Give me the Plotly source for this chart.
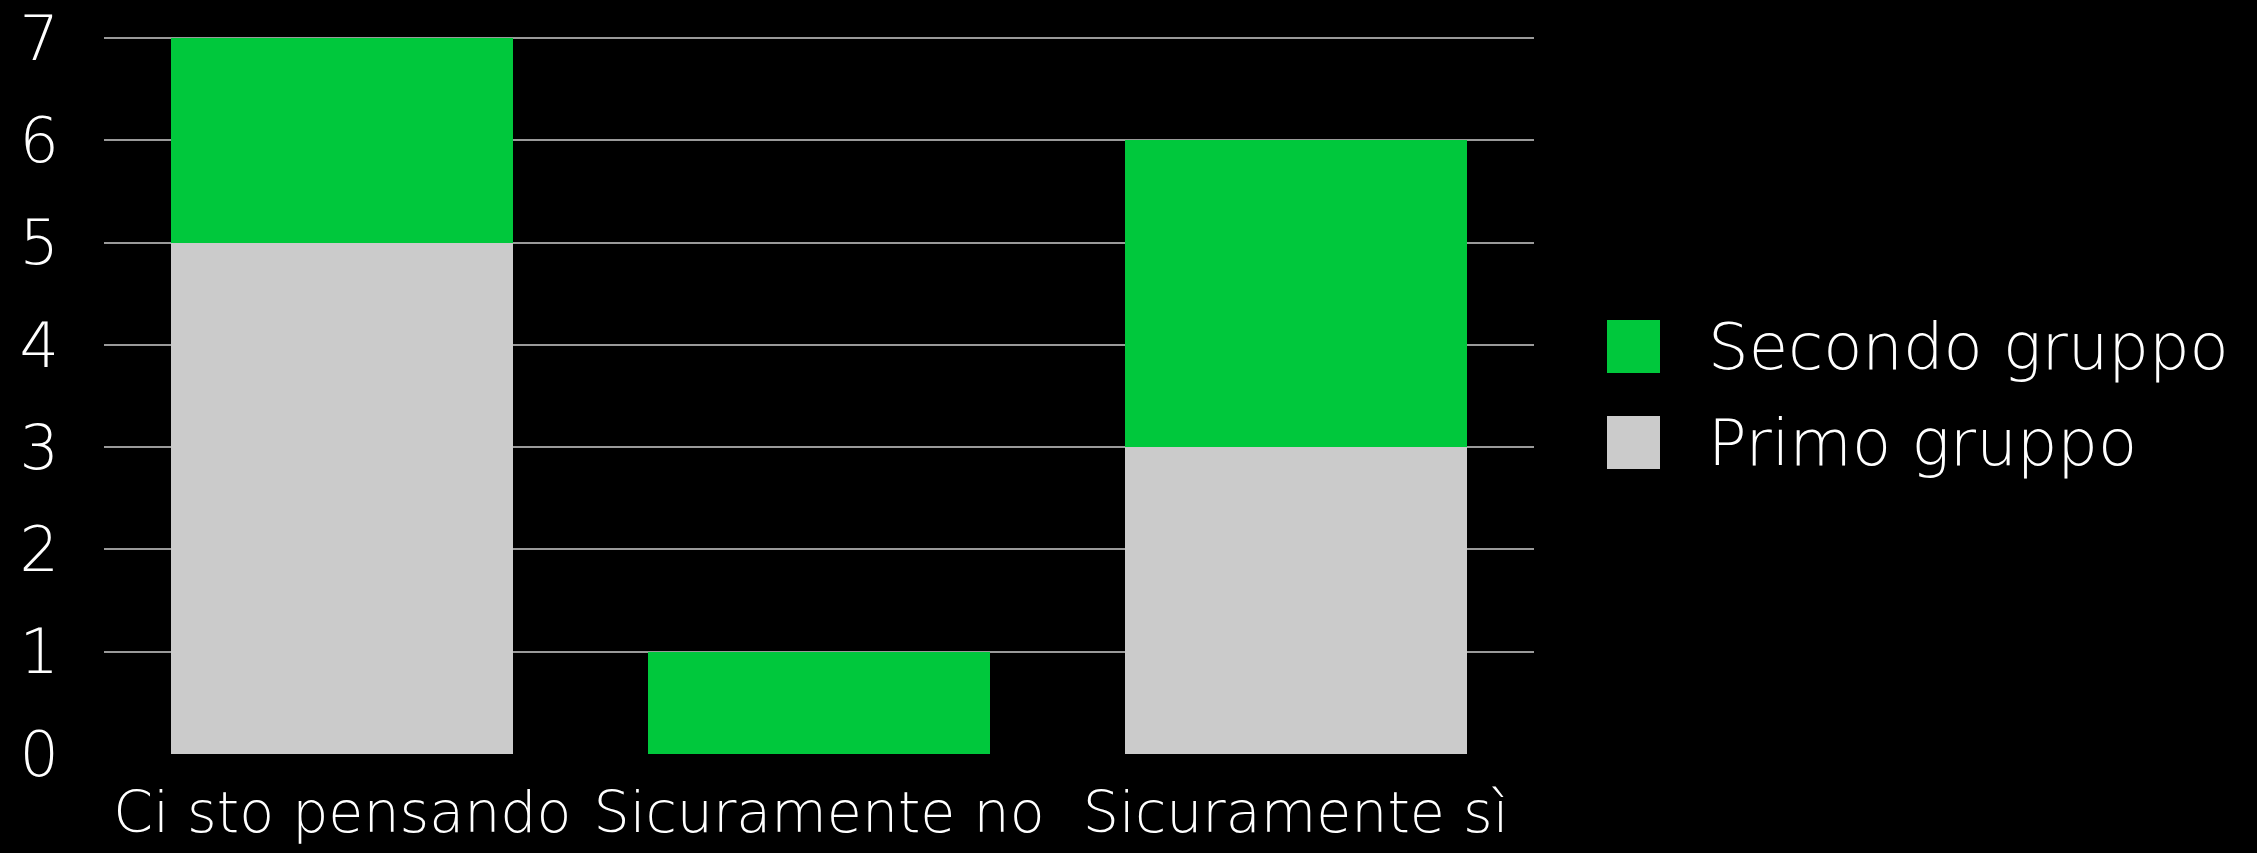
import plotly.graph_objects as go

categories = ["Ci sto pensando", "Sicuramente no", "Sicuramente sì"]
primo_gruppo = [5, 0, 3]
secondo_gruppo = [2, 1, 3]
series_names = ["Primo gruppo", "Secondo gruppo"]
y_ticks = [0, 1, 2, 3, 4, 5, 6, 7]
grid_ticks = [1, 2, 3, 4, 5, 6, 7]

GREY = "#CBCBCB"
GREEN = "#00C83C"
FONT = "'DejaVu Sans', Roboto, Arial, sans-serif"
WEIGHT = 200

W, H = 2257, 853
Y_TOP = 7.05
L, R, B = 104, 723, 99
UNIT = (754 - 38) / 7.0
PH = UNIT * Y_TOP
T = H - B - PH
PW = W - L - R

fig = go.Figure()
fig.add_trace(go.Bar(x=categories, y=primo_gruppo, name=series_names[0],
                     marker=dict(color=GREY, line=dict(width=0)), showlegend=False))
fig.add_trace(go.Bar(x=categories, y=secondo_gruppo, name=series_names[1],
                     marker=dict(color=GREEN, line=dict(width=0)), showlegend=False))


def px_x(px):
    return (px - L) / PW


def px_y(py):
    return (T + PH - py) / PH


legend_items = [(series_names[1], GREEN, 320), (series_names[0], GREY, 416)]
for name, col, top in legend_items:
    fig.add_shape(type="rect", xref="paper", yref="paper",
                  x0=px_x(1607), x1=px_x(1660), y0=px_y(top + 53), y1=px_y(top),
                  fillcolor=col, line=dict(width=0))
    fig.add_annotation(xref="paper", yref="paper", x=px_x(1706), y=px_y(top + 26.5),
                       text=name, showarrow=False, xanchor="left", yanchor="middle",
                       font=dict(family=FONT, size=64, color="white", weight=WEIGHT))

fig.update_layout(
    width=W, height=H,
    margin=dict(l=L, r=R, t=T, b=B, pad=0),
    paper_bgcolor="black", plot_bgcolor="black",
    barmode="stack", bargap=0.283,
    showlegend=False,
    font=dict(family=FONT, color="white", size=62, weight=WEIGHT),
    xaxis=dict(showgrid=False, zeroline=False, showline=False, ticks="",
               automargin=False, tickangle=0,
               tickfont=dict(family=FONT, size=57, color="white", weight=WEIGHT),
               ticklabelstandoff=20),
    yaxis=dict(range=[0, Y_TOP], tickvals=y_ticks, showgrid=False, zeroline=False,
               showline=False, ticks="", automargin=False, ticklabeloverflow="allow",
               tickfont=dict(family=FONT, size=62, color="white", weight=WEIGHT),
               ticklabelstandoff=44),
    yaxis2=dict(range=[0, Y_TOP], overlaying="y", tickvals=grid_ticks, showgrid=True,
                gridcolor="#9A9A9A", gridwidth=2, zeroline=False, showline=False,
                showticklabels=False, ticks=""),
)
fig.add_trace(go.Scatter(x=categories, y=[None, None, None], yaxis="y2",
                         showlegend=False, hoverinfo="skip"))

fig.write_html("out.html",
               config={"displayModeBar": False},
               post_script="document.body.style.margin='0';document.body.style.background='black';")
